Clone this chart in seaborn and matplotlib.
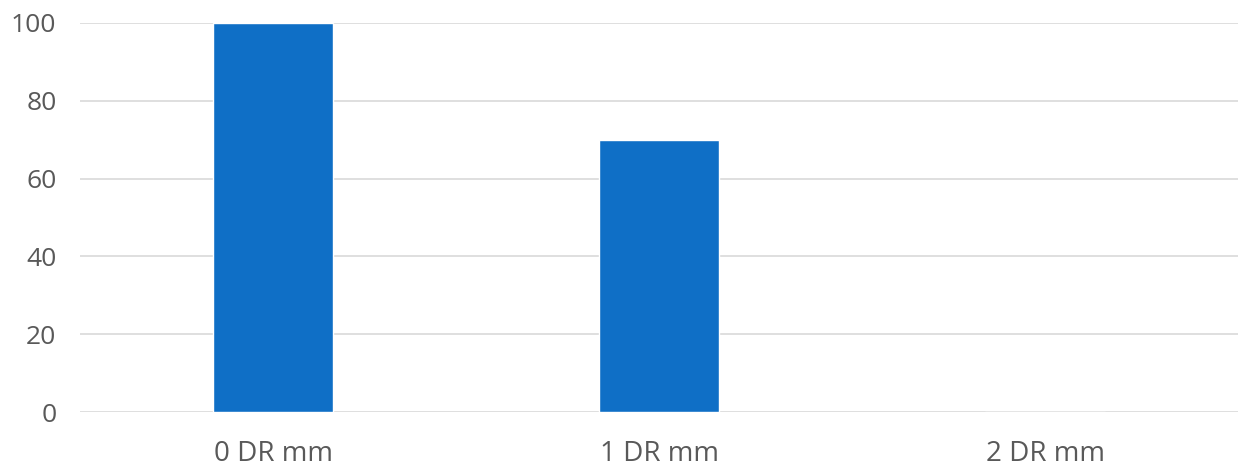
import matplotlib
matplotlib.use("Agg")
import matplotlib.pyplot as plt
import seaborn as sns
import pandas as pd

categories = ["0 DR mm", "1 DR mm", "2 DR mm"]
values = [100, 70, 0]
y_ticks = [0, 20, 40, 60, 80, 100]

df = pd.DataFrame({"category": categories, "value": values})

sns.set_style("white")
plt.rcParams["font.family"] = ["Open Sans", "DejaVu Sans"]

fig = plt.figure(figsize=(12.38, 4.70), dpi=100)
ax = fig.add_axes([80 / 1238, 58 / 470, 1 - 80 / 1238, (412 - 23) / 470])

sns.barplot(data=df, x="category", y="value", color="#0F6FC6", saturation=1,
            width=0.31, ax=ax)

ax.set_ylim(0, 100)
ax.set_yticks(y_ticks)
ax.set_xlim(-0.5, 2.5)
ax.grid(axis="y", color="#d9d9d9", linewidth=1.2)
ax.set_axisbelow(True)
for s in ax.spines.values():
    s.set_visible(False)
ax.set_xlabel("")
ax.set_ylabel("")
ax.tick_params(axis="both", length=0, labelcolor="#595959")
ax.tick_params(axis="y", labelsize=19, pad=17)
ax.tick_params(axis="x", labelsize=20, pad=20)

fig.savefig("out.png", dpi=100)
